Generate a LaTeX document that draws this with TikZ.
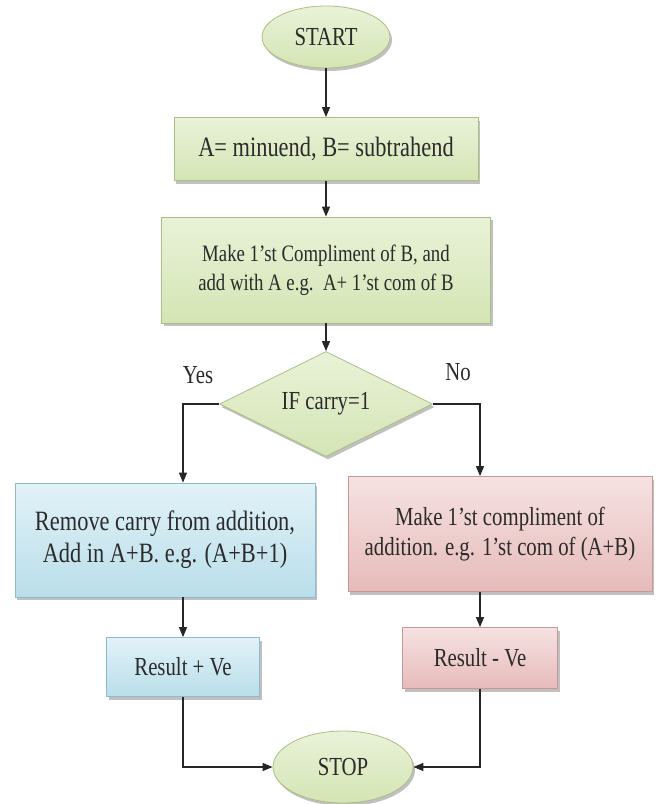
\documentclass[tikz,border=0pt]{standalone}
\usepackage{fontspec}
\setmainfont{Liberation Serif}[FakeStretch=0.8]
\usetikzlibrary{shapes.geometric,arrows.meta,shadows}
\definecolor{grntop}{HTML}{E9F2D8}
\definecolor{grnbot}{HTML}{D4E5B4}
\definecolor{grnline}{HTML}{A9BF84}
\definecolor{blutop}{HTML}{E2F2F8}
\definecolor{blubot}{HTML}{B9DEEA}
\definecolor{bluline}{HTML}{8EBACA}
\definecolor{pnktop}{HTML}{F6E2E2}
\definecolor{pnkbot}{HTML}{E6BBBA}
\definecolor{pnkline}{HTML}{C99696}
\definecolor{ink}{HTML}{2B2B2B}
\begin{document}
\begin{tikzpicture}[x=1pt,y=-1pt,font=\fontsize{26}{30}\selectfont,text=ink,
    box/.style={inner sep=0pt,align=center,line width=0.8pt,
        drop shadow={shadow xshift=2pt,shadow yshift=-3pt,fill=black!45,opacity=.55}},
    grnbox/.style={box,draw=grnline,top color=grntop,bottom color=grnbot},
    blubox/.style={box,draw=bluline,top color=blutop,bottom color=blubot},
    pnkbox/.style={box,draw=pnkline,top color=pnktop,bottom color=pnkbot},
    arr/.style={draw=black!85,line width=1.3pt,-{Triangle[length=10pt,width=8pt]}}]
    \useasboundingbox (0,0) rectangle (657,804);
    \node[ellipse,grnbox,minimum width=128,minimum height=62] (start) at (326,37) {START};
    \node[grnbox,minimum width=304,minimum height=63,font=\fontsize{28}{32}\selectfont] (input) at (326,149) {A= minuend, B= subtrahend};
    \node[grnbox,minimum width=329,minimum height=106,font=\fontsize{23.5}{29}\selectfont] (makecomp) at (326,270) {Make 1’st Compliment of B, and\\add with A e.g.\ \ A+ 1’st com of B};
    \node[diamond,grnbox,aspect=2,minimum width=213,minimum height=105] (check) at (326,404) {IF carry=1};
    \node (yes) at (198,375) {Yes};
    \node (no) at (458,372) {No};
    \node[blubox,minimum width=300,minimum height=114,font=\fontsize{28}{32}\selectfont] (yesbox) at (165,540) {Remove carry from addition,\\Add in A+B. e.g. (A+B+1)};
    \node[pnkbox,minimum width=304,minimum height=115] (nobox) at (500,534) {Make 1’st compliment of\\addition. e.g. 1’st com of (A+B)};
    \node[blubox,minimum width=153,minimum height=59] (respos) at (183,667) {Result + Ve};
    \node[pnkbox,minimum width=155,minimum height=61] (resneg) at (480,658) {Result - Ve};
    \node[ellipse,grnbox,minimum width=140,minimum height=72] (stop) at (343,767) {STOP};
    \draw[arr] (start) -- (input);
    \draw[arr] (input) -- (makecomp);
    \draw[arr] (makecomp) -- (check);
    \draw[arr] (check.west) -| (respos.north |- yesbox.north);
    \draw[arr] (check.east) -| (resneg.north |- nobox.north);
    \draw[arr] (respos.north |- yesbox.south) -- (respos.north);
    \draw[arr] (resneg.north |- nobox.south) -- (resneg.north);
    \draw[arr] (respos.south) |- (stop.west);
    \draw[arr] (resneg.south) |- (stop.east);
\end{tikzpicture}
\end{document}
